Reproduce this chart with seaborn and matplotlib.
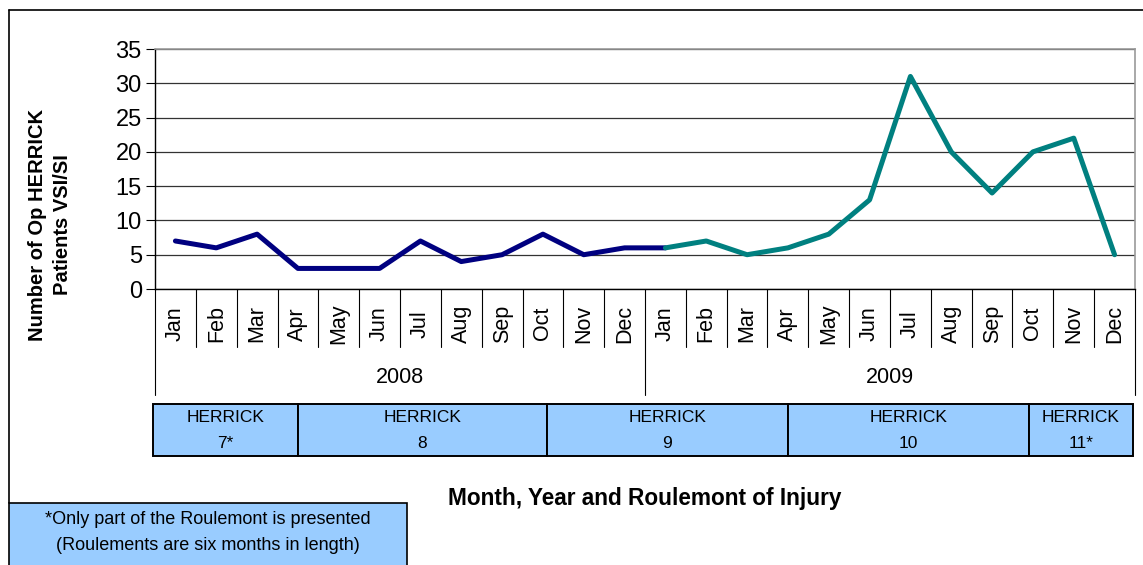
import pandas as pd
import seaborn as sns
import matplotlib.pyplot as plt
from matplotlib.patches import Rectangle
from matplotlib.lines import Line2D
import matplotlib.transforms as mtransforms

# Données
months = ['Jan', 'Feb', 'Mar', 'Apr', 'May', 'Jun',
          'Jul', 'Aug', 'Sep', 'Oct', 'Nov', 'Dec']
years = ['2008', '2009']
patients_2008 = [7, 6, 8, 3, 3, 3, 7, 4, 5, 8, 5, 6]
patients_2009 = [6, 7, 5, 6, 8, 13, 31, 20, 14, 20, 22, 5]
roulement_names = ['HERRICK\n7*', 'HERRICK\n8', 'HERRICK\n9', 'HERRICK\n10', 'HERRICK\n11*']
roulement_edges = [-0.55, 3, 9.1, 15, 20.9, 23.45]
footnote = "*Only part of the Roulemont is presented\n(Roulements are six months in length)"

sns.set_style("white")
plt.rcParams['font.family'] = ['Liberation Sans', 'DejaVu Sans']
plt.rcParams['text.color'] = 'black'

# la série 2008 se prolonge jusqu'à Jan 2009
n = len(months)
rows = [(i, v, '2008') for i, v in enumerate(patients_2008 + patients_2009[:1])]
rows += [(n + i, v, '2009') for i, v in enumerate(patients_2009)]
df = pd.DataFrame(rows, columns=['idx', 'patients', 'year'])

fig = plt.figure(figsize=(11.43, 5.65), dpi=100)
W, H = 1143, 565
ax = fig.add_axes([155 / W, 1 - 289 / H, 980 / W, 240 / H])

sns.lineplot(data=df, x='idx', y='patients', hue='year',
             palette={'2008': '#000080', '2009': '#008080'},
             linewidth=3.6, legend=False, ax=ax, sort=False)

ax.set_xlim(-0.5, 2 * n - 0.5)
ax.set_ylim(0, 35)
ax.set_yticks(range(0, 36, 5))
ax.tick_params(axis='y', labelsize=17, length=6.5, width=0.8, direction='out',
               left=True, pad=3, colors='black')
ax.set_xticks([])
ax.yaxis.grid(True, color='#333333', linewidth=0.9)
ax.set_axisbelow(True)
ax.set_xlabel('')
ax.set_ylabel('')
for s in ['top', 'right']:
    ax.spines[s].set_color('#999999')
    ax.spines[s].set_linewidth(1.2)
for s in ['left', 'bottom']:
    ax.spines[s].set_color('black')
    ax.spines[s].set_linewidth(1.0)

# axe des catégories (mois / années)
trans = mtransforms.blended_transform_factory(ax.transData, ax.transAxes)
for i in range(2 * n + 1):
    x = i - 0.5
    y_end = -0.442 if i % n == 0 else -0.242
    ax.add_line(Line2D([x, x], [0, y_end], transform=trans, color='black',
                       linewidth=0.8, clip_on=False))
for k, yr in enumerate(years):
    for j, m in enumerate(months):
        ax.text(k * n + j, -0.145, m, transform=trans, rotation=90,
                ha='center', va='center', fontsize=15.5)
    ax.text(k * n + (n - 1) / 2, -0.37, yr, transform=trans,
            ha='center', va='center', fontsize=15.5)

# tableau des roulements
for name, x0, x1 in zip(roulement_names, roulement_edges[:-1], roulement_edges[1:]):
    ax.add_patch(Rectangle((x0, -0.696), x1 - x0, 0.217, transform=trans,
                           facecolor='#99CCFF', edgecolor='black',
                           linewidth=1.4, clip_on=False))
    top, bottom = name.split('\n')
    ax.text((x0 + x1) / 2, -0.535, top, transform=trans,
            ha='center', va='center', fontsize=12.5)
    ax.text((x0 + x1) / 2, -0.645, bottom, transform=trans,
            ha='center', va='center', fontsize=12.5)

# titres d'axes
fig.text(645 / W, 1 - 498 / H, 'Month, Year and Roulemont of Injury',
         ha='center', va='center', fontsize=16.3, fontweight='bold')
fig.text(38 / W, 1 - 225 / H, 'Number of Op HERRICK', rotation=90,
         ha='center', va='center', fontsize=14.5, fontweight='bold')
fig.text(62 / W, 1 - 225 / H, 'Patients VSI/SI', rotation=90,
         ha='center', va='center', fontsize=14.5, fontweight='bold')

# cadre extérieur et note
fig.add_artist(Line2D([9 / W, 1], [1 - 10 / H, 1 - 10 / H], color='black', linewidth=1.2))
fig.add_artist(Line2D([9 / W, 9 / W], [1 - 10 / H, 1 - 503 / H], color='black', linewidth=1.2))
fig.add_artist(Rectangle((9 / W, -0.01), 398 / W, (565 - 503) / H + 0.01,
                         transform=fig.transFigure, facecolor='#99CCFF',
                         edgecolor='black', linewidth=1.2))
top, bottom = footnote.split('\n')
fig.text(208 / W, 1 - 519 / H, top, ha='center', va='center', fontsize=13)
fig.text(208 / W, 1 - 545 / H, bottom, ha='center', va='center', fontsize=13)

fig.savefig('out.png', dpi=100)
